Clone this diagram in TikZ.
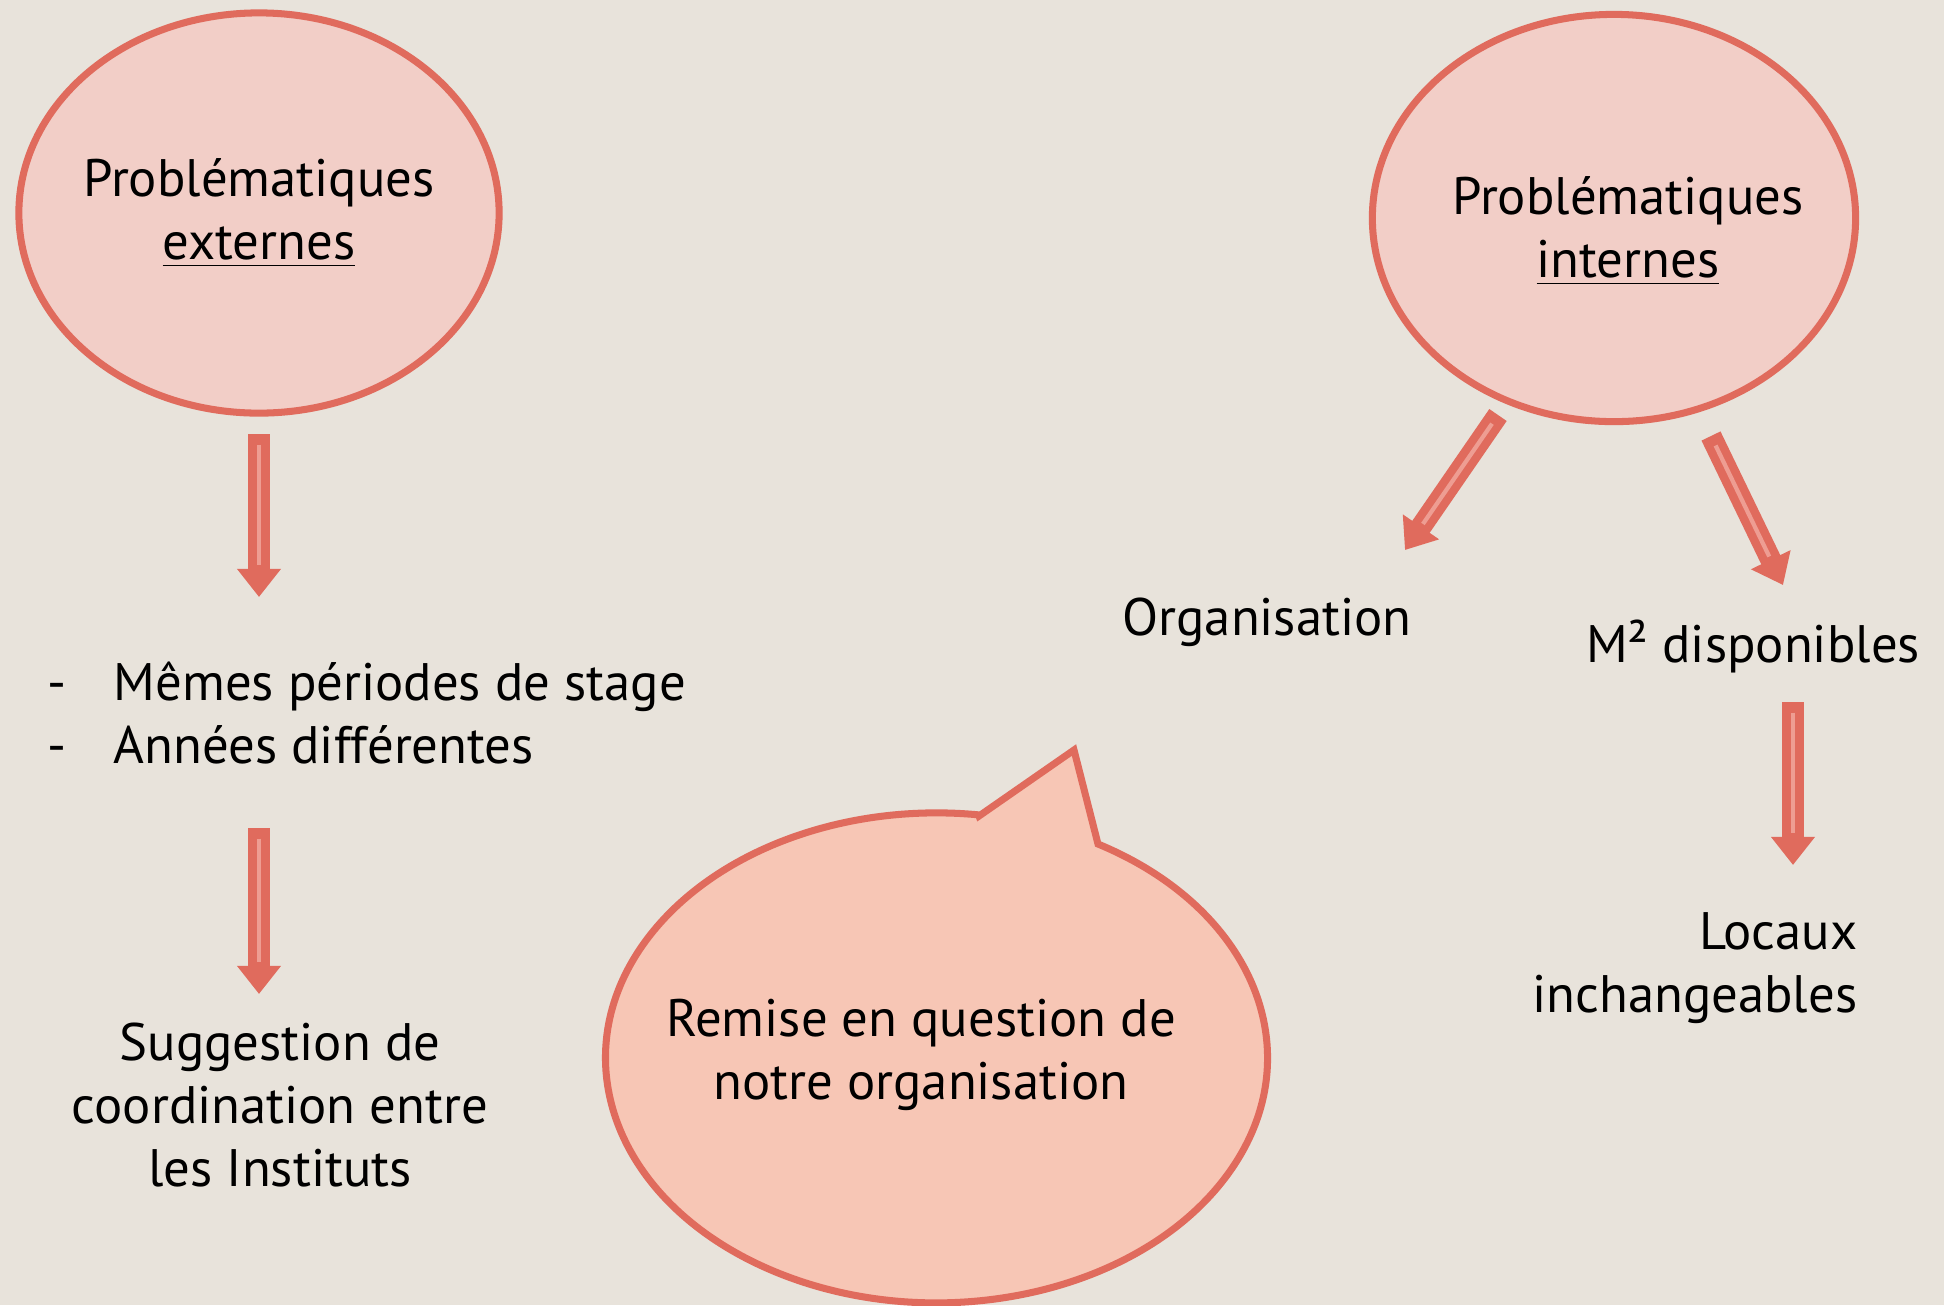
\documentclass[tikz,border=0pt]{standalone}
\usepackage{fontspec}
\setmainfont{PT Sans}
\usetikzlibrary{shapes.geometric,arrows.meta}
\definecolor{fond}{HTML}{E8E3DB}
\definecolor{trait}{HTML}{E06B5D}
\definecolor{rose}{HTML}{F2CEC7}
\definecolor{saumon}{HTML}{F7C6B5}
\definecolor{filet}{HTML}{EE9D92}

\begin{document}
\begin{tikzpicture}[x=0.01cm, y=-0.01cm,
  bulle/.style={ellipse, draw=trait, line width=2pt, fill=rose, inner sep=0pt, align=center},
  texte/.style={font=\fontsize{15}{18}\selectfont, align=center, inner sep=0pt},
  fleche/.style={draw=trait, line width=6pt, -{Triangle[width=12pt,length=8pt]},
    postaction={draw=filet, line width=1.2pt, shorten <=3pt, shorten >=9pt, -}}]
\useasboundingbox (0,0) rectangle (1944,1305);
\fill[fond] (0,0) rectangle (1944,1305);
% les deux problematiques
\node[bulle, minimum width=4.8cm, minimum height=4cm] (ext) at (259,213) {};
\node[texte] (extT) at (259,213) {Problématiques\\\underline{externes}};
\node[bulle, minimum width=4.83cm, minimum height=4.07cm] (int) at (1614,218) {};
\node[texte] (intT) at (1628,231) {Problématiques\\\underline{internes}};
% textes
\node[texte, anchor=west, align=left] (liste) at (47,713) {\makebox[0.66cm][l]{-}Mêmes périodes de stage\\\makebox[0.66cm][l]{-}Années différentes};
\node[texte] (sugg) at (280,1105) {Suggestion de\\coordination entre\\les Instituts};
\node[texte] (orga) at (1267,622) {Organisation};
\node[texte] (metres) at (1753,646) {M² disponibles};
\node[texte, anchor=east, align=right] (locaux) at (1858,968) {Locaux\\inchangeables};
% bulle de dialogue
\draw[draw=trait, line width=2pt, fill=saumon] (979,816) -- (1074,750) -- (1098,844)
  arc[start angle=-60.8, end angle=277.3, x radius=331, y radius=245] -- cycle;
\node[texte] (remise) at (921,1055) {Remise en question de\\notre organisation};
% fleches
\coordinate (extBas) at (259,434);
\coordinate (listeHaut) at (259,597);
\coordinate (listeBas) at (259,828);
\coordinate (suggHaut) at (259,994);
\coordinate (intGauche) at (1498,415);
\coordinate (orgaHaut) at (1405,550);
\coordinate (intDroite) at (1711,436);
\coordinate (metresHaut) at (1783,585);
\coordinate (metresBas) at (1793,702);
\coordinate (locauxHaut) at (1793,865);
\draw[fleche] (extBas) -- (listeHaut);
\draw[fleche] (listeBas) -- (suggHaut);
\draw[fleche] (intGauche) -- (orgaHaut);
\draw[fleche] (intDroite) -- (metresHaut);
\draw[fleche] (metresBas) -- (locauxHaut);
\end{tikzpicture}
\end{document}
